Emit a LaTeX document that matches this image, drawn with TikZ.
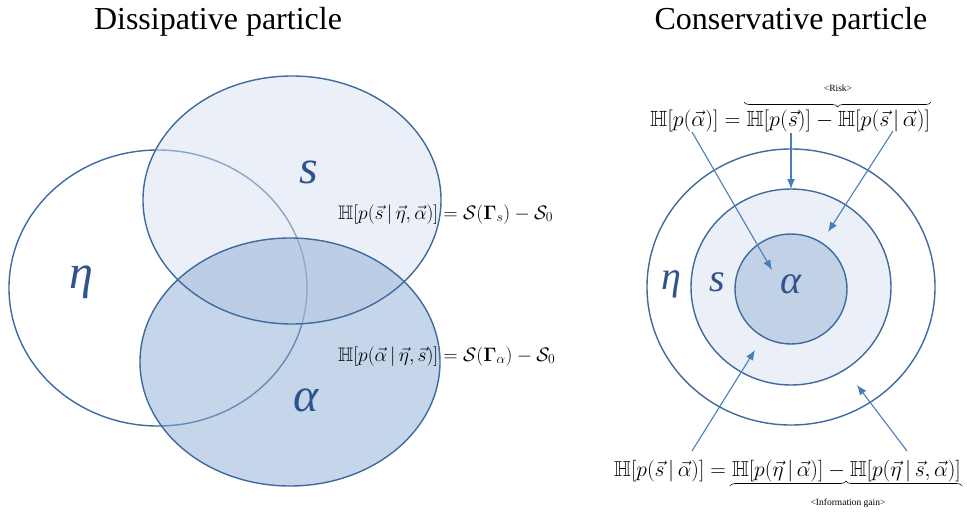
\RequirePackage{fix-cm}
\documentclass[tikz,border=0pt]{standalone}
\usepackage{amsmath,amssymb}
\usepackage[no-math]{fontspec}
\setmainfont{Liberation Serif}
\usetikzlibrary{arrows.meta,decorations.pathreplacing}
\definecolor{edge}{RGB}{62,106,158}
\definecolor{arrowc}{RGB}{74,126,187}
\definecolor{lbl}{RGB}{47,84,140}
\definecolor{sfill}{RGB}{215,225,241}
\definecolor{afill}{RGB}{141,173,213}
\definecolor{ringfill}{RGB}{235,240,248}
\definecolor{corefill}{RGB}{193,210,230}
\begin{document}
\begin{tikzpicture}[x=1pt,y=-1pt,
  title/.style={font=\fontsize{32}{36}\selectfont},
  outline/.style={draw=edge,line width=1.4pt},
  biglbl/.style={text=lbl,font=\fontsize{48}{50}\selectfont\itshape},
  smlbl/.style={text=lbl,font=\fontsize{40}{44}\selectfont\itshape},
  eq/.style={anchor=base west,inner sep=0pt,font=\fontsize{19.5}{23}\selectfont},
  req/.style={anchor=base west,inner sep=0pt,font=\fontsize{22}{26}\selectfont},
  beq/.style={anchor=base west,inner sep=0pt,font=\fontsize{21.6}{26}\selectfont},
  bracelbl/.style={inner sep=0pt,font=\fontsize{9.5}{11}\selectfont},
  bracestyle/.style={draw=black,line width=0.6pt,decorate,decoration={brace,amplitude=5pt}},
  arr/.style={draw=arrowc,line width=1.1pt,-{Latex[length=10pt,width=8pt]}}]
\path[use as bounding box] (0,0) rectangle (967,514);
% titles
\node[title] (t1) at (218,22) {Dissipative particle};
\node[title] (t2) at (791,22) {Conservative particle};
% left Venn diagram
\draw[outline] (158,288) ellipse [x radius=149pt,y radius=138pt];
\fill[sfill,fill opacity=.5] (292,200) ellipse [x radius=149pt,y radius=124pt];
\fill[afill,fill opacity=.5] (290,362) ellipse [x radius=150pt,y radius=124pt];
\draw[outline] (292,200) ellipse [x radius=149pt,y radius=124pt];
\draw[outline] (290,362) ellipse [x radius=150pt,y radius=124pt];
\node[biglbl] (ls) at (309,172) {s};
\node[biglbl] (leta) at (81,282) {η};
\node[biglbl] (lalpha) at (306,400) {α};
\node[eq] (e1) at (338,219) {$\mathbb{H}[p(\vec{s}\,|\,\vec{\eta},\vec{\alpha})]=\mathcal{S}(\mathbf{\Gamma}_s)-\mathcal{S}_0$};
\node[eq] (e2) at (338,361) {$\mathbb{H}[p(\vec{\alpha}\,|\,\vec{\eta},\vec{s})]=\mathcal{S}(\mathbf{\Gamma}_\alpha)-\mathcal{S}_0$};
% right concentric diagram
\draw[outline] (791,287) ellipse [x radius=144pt,y radius=138pt];
\draw[outline,fill=ringfill] (791,287) ellipse [x radius=100pt,y radius=98pt];
\draw[outline,fill=corefill] (791,289) ellipse [x radius=56pt,y radius=55pt];
\node[smlbl] (reta) at (671,284) {η};
\node[smlbl] (rs) at (717,282) {s};
\node[smlbl] (ralpha) at (791,284) {α};
\node[req] (e3) at (650,126) {$\mathbb{H}[p(\vec{\alpha})]=\mathbb{H}[p(\vec{s})]-\mathbb{H}[p(\vec{s}\,|\,\vec{\alpha})]$};
\node[beq] (e4) at (614,476) {$\mathbb{H}[p(\vec{s}\,|\,\vec{\alpha})]=\mathbb{H}[p(\vec{\eta}\,|\,\vec{\alpha})]-\mathbb{H}[p(\vec{\eta}\,|\,\vec{s},\vec{\alpha})]$};
% braces
\coordinate (b1l) at (744,102);
\coordinate (b1r) at (931,102);
\coordinate (b2l) at (730,486);
\coordinate (b2r) at (962,486);
\draw[bracestyle,decoration={mirror}] (b1l) -- (b1r);
\draw[bracestyle] (b2l) -- (b2r);
\node[bracelbl] (risk) at (838,88) {<Risk>};
\node[bracelbl] (info) at (848,503) {<Information gain>};
% arrows
\coordinate (a1s) at (692,132);
\coordinate (a1e) at (772,270);
\coordinate (a2s) at (791,133);
\coordinate (a2e) at (791,189);
\coordinate (a3s) at (893,131);
\coordinate (a3e) at (828,232);
\coordinate (a4s) at (692,451);
\coordinate (a4e) at (755,350);
\coordinate (a5s) at (907,451);
\coordinate (a5e) at (857,385);
\draw[arr] (a1s) -- (a1e);
\draw[arr] (a2s) -- (a2e);
\draw[arr] (a3s) -- (a3e);
\draw[arr] (a4s) -- (a4e);
\draw[arr] (a5s) -- (a5e);
\end{tikzpicture}
\end{document}
